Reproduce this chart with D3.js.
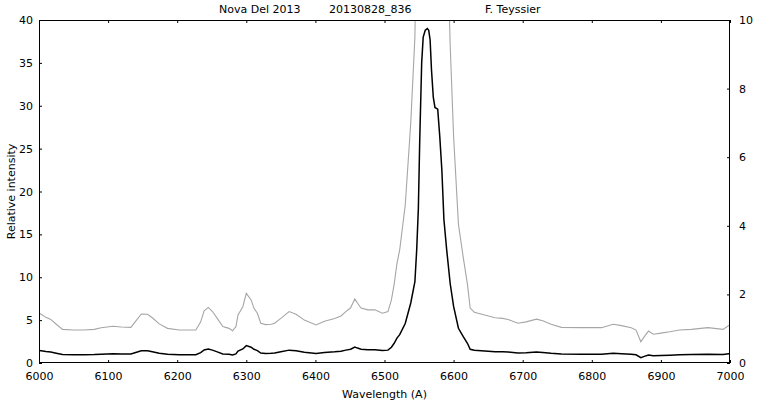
<!DOCTYPE html>
<html><head><meta charset="utf-8">
<script src="https://cdn.jsdelivr.net/npm/d3@7"></script>
<style>
body{margin:0;background:#fff}
svg{display:block}
text{font-family:"DejaVu Sans",sans-serif;font-size:11px;fill:#000}
</style>
</head><body>
<svg id="c" width="758" height="401"></svg>
<script>
// Spectrum: wavelength (A) and relative intensity
const wavelength = [6000,6003,6010,6017,6025,6034,6050,6065,6080,6090,6107,6119,6133,6140,6148,6157,6164,6174,6186,6203,6227,6234,6239,6245,6251,6258,6266,6275,6280,6285,6288,6295,6300,6307,6311,6316,6321,6328,6336,6341,6350,6362,6372,6384,6401,6413,6428,6437,6444,6451,6457,6461,6466,6476,6486,6497,6505,6510,6514,6518,6522,6530,6538,6544,6546.6,6549,6551,6553.8,6556,6559,6562,6564,6566,6568,6570.6,6573,6577,6580,6583,6586,6590,6595,6600,6607,6614,6620,6624,6630,6645,6660,6671,6679,6693,6705,6720,6729,6741,6756,6785,6814,6831,6843,6857,6864,6871,6876,6882,6889,6900,6913,6927,6944,6968,6990,6998,7000];
const intensity  = [1.46,1.42,1.33,1.27,1.13,0.98,0.96,0.96,0.98,1.03,1.07,1.05,1.04,1.22,1.43,1.42,1.32,1.14,1.01,0.96,0.96,1.2,1.52,1.62,1.5,1.3,1.06,1.01,0.94,1.06,1.4,1.64,2.03,1.84,1.6,1.45,1.16,1.12,1.13,1.16,1.3,1.5,1.42,1.25,1.11,1.22,1.3,1.37,1.5,1.61,1.87,1.74,1.6,1.55,1.55,1.45,1.5,1.84,2.3,2.9,3.3,4.6,7.0,9.5,13.2,18,26,35,38,38.8,39,38.8,37.7,34.2,31,29.8,29.6,26.4,22.5,16.7,13.2,9.3,6.6,4.05,3.07,2.3,1.6,1.48,1.4,1.32,1.3,1.27,1.16,1.2,1.28,1.23,1.13,1.04,1.03,1.03,1.13,1.09,1.03,0.96,0.62,0.77,0.93,0.84,0.87,0.91,0.96,0.98,1.03,0.98,1.09,1.1];
const xTicks = [6000,6100,6200,6300,6400,6500,6600,6700,6800,6900,7000];
const leftTicks = [0,5,10,15,20,25,30,35,40];
const rightTicks = [0,2,4,6,8,10];
const titleParts = ["Nova Del 2013","20130828_836","F. Teyssier"];
const xLabel = "Wavelength (A)";
const yLabel = "Relative intensity";

const L=39, R=730, T=20, B=363;
const svg = d3.select("#c");
const x = d3.scaleLinear().domain([6000,7000]).range([L,R]);
const yL = d3.scaleLinear().domain([0,40]).range([B,T]);
const yR = d3.scaleLinear().domain([0,10]).range([B,T]);

const data = wavelength.map((w,i)=>({w, v:intensity[i]}));

svg.append("defs").append("clipPath").attr("id","clip")
  .append("rect").attr("x",L).attr("y",T).attr("width",R-L).attr("height",B-T);

const g = svg.append("g").attr("clip-path","url(#clip)");
g.append("path").datum(data)
  .attr("fill","none").attr("stroke","#a6a6a6").attr("stroke-width",1.1)
  .attr("d", d3.line().x(d=>x(d.w)).y(d=>yR(d.v)));
g.append("path").datum(data)
  .attr("fill","none").attr("stroke","#000").attr("stroke-width",1.5)
  .attr("d", d3.line().x(d=>x(d.w)).y(d=>yL(d.v)));

function style(sel){
  sel.select(".domain").remove();
  sel.selectAll(".tick line").attr("stroke","#000");
  sel.selectAll("text").attr("fill","#000").style("font-size","11px").style("font-family","DejaVu Sans, sans-serif");
}
svg.append("g").attr("transform",`translate(0,${B})`)
  .call(d3.axisBottom(x).tickValues(xTicks).tickFormat(d3.format("d")).tickSize(-3).tickPadding(9)).call(style);
svg.append("g").attr("transform",`translate(0,${T})`)
  .call(d3.axisTop(x).tickValues(xTicks).tickFormat("").tickSize(-3)).call(style);
svg.append("g").attr("transform",`translate(${L},0)`)
  .call(d3.axisLeft(yL).tickValues(leftTicks).tickSize(-3).tickPadding(6)).call(style);
svg.append("g").attr("transform",`translate(${R},0)`)
  .call(d3.axisRight(yR).tickValues(rightTicks).tickSize(-3).tickPadding(9)).call(style);

svg.append("rect").attr("x",L+0.5).attr("y",T+0.5).attr("width",R-L-1).attr("height",B-T-1)
  .attr("fill","none").attr("stroke","#000").attr("stroke-width",1);

const titleX = [219,329,485];
titleParts.forEach((t,i)=>svg.append("text").attr("x",titleX[i]).attr("y",13).text(t));

svg.append("text").attr("x",(L+R)/2).attr("y",398).attr("text-anchor","middle").text(xLabel);
svg.append("text").attr("transform",`translate(15,${(T+B)/2}) rotate(-90)`).attr("text-anchor","middle").text(yLabel);
</script>
</body></html>
